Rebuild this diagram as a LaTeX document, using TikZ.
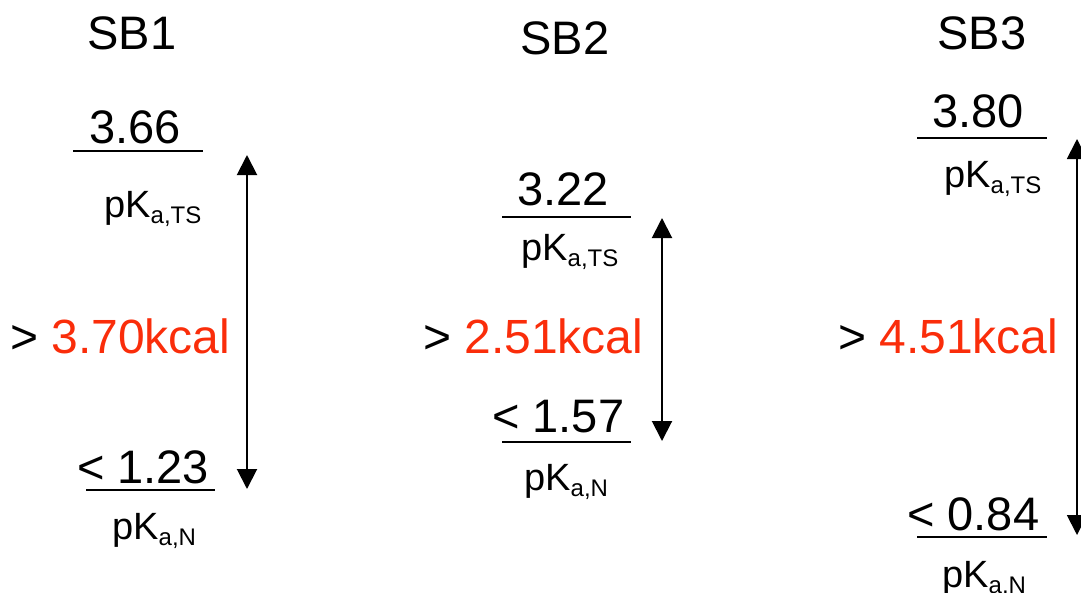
\documentclass[tikz,border=0pt]{standalone}
\usepackage{fontspec}
\setmainfont{Liberation Sans}
\usetikzlibrary{arrows.meta}
\definecolor{barrier}{RGB}{250,45,10}
\newcommand{\bigtxt}{\fontsize{47}{56}\selectfont}
\newcommand{\kcaltxt}{\fontsize{48}{58}\selectfont}
\newcommand{\pktxt}{\fontsize{38}{46}\selectfont}
\newcommand{\subtxt}{\fontsize{24}{28}\selectfont}
\newcommand{\pKa}[1]{pK\raisebox{-6pt}{\subtxt a,#1}}
\begin{document}
\begin{tikzpicture}[x=1pt,y=-1pt,
  txt/.style={inner sep=0pt,anchor=base west},
  head/.style={inner sep=0pt,anchor=base,font=\bigtxt},
  val/.style={txt,font=\bigtxt},
  pk/.style={txt,font=\pktxt},
  gap/.style={txt,font=\kcaltxt},
  level/.style={line width=2pt},
  span/.style={line width=2pt,{Triangle[length=20pt,width=20pt]}-{Triangle[length=20pt,width=20pt]}}]
\useasboundingbox (0,0) rectangle (1081,592);
\clip (0,0) rectangle (1081,592);

% ---- SB1 ----
\node[head] (h1) at (132,49) {SB1};
\node[val] (ts1) at (89,143) {3.66};
\coordinate (ts1l) at (73,151); \coordinate (ts1r) at (203,151);
\draw[level] (ts1l) -- (ts1r);
\node[pk] (pts1) at (104,217) {\pKa{TS}};
\node[val] (n1) at (77,483) {< 1.23};
\coordinate (n1l) at (86,490); \coordinate (n1r) at (215,490);
\draw[level] (n1l) -- (n1r);
\node[pk] (pn1) at (112,539) {\pKa{N}};
\node[gap] (g1) at (10,353) {> \textcolor{barrier}{3.70kcal}};
\coordinate (a1t) at (247,155); \coordinate (a1b) at (247,489);
\draw[span] (a1t) -- (a1b);

% ---- SB2 ----
\node[head] (h2) at (565,54) {SB2};
\node[val] (ts2) at (517,205) {3.22};
\coordinate (ts2l) at (502,217); \coordinate (ts2r) at (631,217);
\draw[level] (ts2l) -- (ts2r);
\node[pk] (pts2) at (521,260) {\pKa{TS}};
\node[val] (n2) at (492,432) {< 1.57};
\coordinate (n2l) at (502,442); \coordinate (n2r) at (631,442);
\draw[level] (n2l) -- (n2r);
\node[pk] (pn2) at (524,490) {\pKa{N}};
\node[gap] (g2) at (423,353) {> \textcolor{barrier}{2.51kcal}};
\coordinate (a2t) at (662,218); \coordinate (a2b) at (662,441);
\draw[span] (a2t) -- (a2b);

% ---- SB3 ----
\node[head] (h3) at (982,49) {SB3};
\node[val] (ts3) at (932,127) {3.80};
\coordinate (ts3l) at (917,138); \coordinate (ts3r) at (1047,138);
\draw[level] (ts3l) -- (ts3r);
\node[pk] (pts3) at (944,187) {\pKa{TS}};
\node[val] (n3) at (907,530) {< 0.84};
\coordinate (n3l) at (917,537); \coordinate (n3r) at (1047,537);
\draw[level] (n3l) -- (n3r);
\node[pk] (pn3) at (942,587) {\pKa{N}};
\node[gap] (g3) at (838,353) {> \textcolor{barrier}{4.51kcal}};
\coordinate (a3t) at (1077,139); \coordinate (a3b) at (1077,535);
\draw[span] (a3t) -- (a3b);
\end{tikzpicture}
\end{document}
